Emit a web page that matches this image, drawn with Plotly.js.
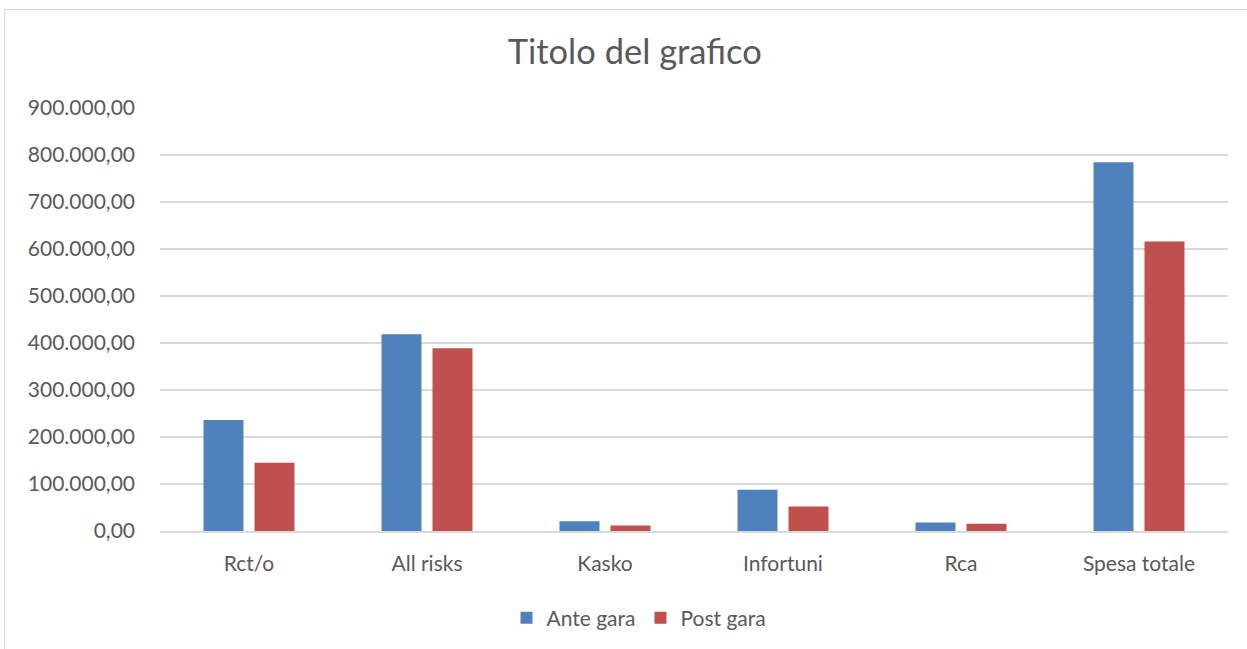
<!DOCTYPE html>
<html><head><meta charset="utf-8">
<script src="https://cdn.plot.ly/plotly-3.0.1.min.js"></script>
<style>
html,body{margin:0;padding:0;background:#fff;}
#chart{position:absolute;left:0;top:0;width:1247px;height:649px;}
#frame{position:absolute;left:4px;top:9px;width:1250px;height:650px;border:1px solid #d9d9d9;pointer-events:none;}
</style></head>
<body>
<div id="chart"></div>
<div id="frame"></div>
<script>
const categories = ["Rct/o", "All risks", "Kasko", "Infortuni", "Rca", "Spesa totale"];
const anteGara = [236400, 418700, 20800, 88000, 18000, 784800];
const postGara = [145200, 389000, 11700, 52000, 15300, 615800];
const seriesNames = ["Ante gara", "Post gara"];
const tickVals = [0, 100000, 200000, 300000, 400000, 500000, 600000, 700000, 800000, 900000];

const font = "Lato, 'Open Sans', sans-serif";
const traces = [
  {type:"bar", name:seriesNames[0], x:categories, y:anteGara, marker:{color:"#4F81BD"}},
  {type:"bar", name:seriesNames[1], x:categories, y:postGara, marker:{color:"#C0504D"}}
];
const layout = {
  width:1247, height:649,
  separators:",.",
  paper_bgcolor:"rgba(0,0,0,0)", plot_bgcolor:"#fff",
  margin:{l:160, r:19, t:108, b:116.5},
  title:{text:"Titolo del grafico", x:0.509, xanchor:"center", y:0.92, yanchor:"middle",
         font:{family:font, size:34.5, color:"#595959"}},
  barmode:"group", bargap:0.427, bargroupgap:0.216,
  font:{family:font, color:"#595959"},
  xaxis:{type:"category", showgrid:false, ticks:"", showline:true, linecolor:"#d9d9d9", linewidth:1.5,
         tickfont:{family:font, size:21, color:"#595959"}, ticklabelstandoff:13},
  yaxis:{range:[0,900000], tickvals:tickVals, tickformat:",.2f", showgrid:true, gridcolor:"#d9d9d9", gridwidth:1.5,
         zeroline:false, showline:false, ticks:"", tickfont:{family:font, size:21, color:"#595959"}, ticklabelstandoff:24},
  legend:{orientation:"h", x:0.4485, xanchor:"center", y:-0.155, yanchor:"top",
          font:{family:font, size:21, color:"#595959"}, itemwidth:30, traceorder:"normal"},
  showlegend:true
};
Plotly.newPlot("chart", traces, layout, {displayModeBar:false, staticPlot:true});
</script>
</body></html>
